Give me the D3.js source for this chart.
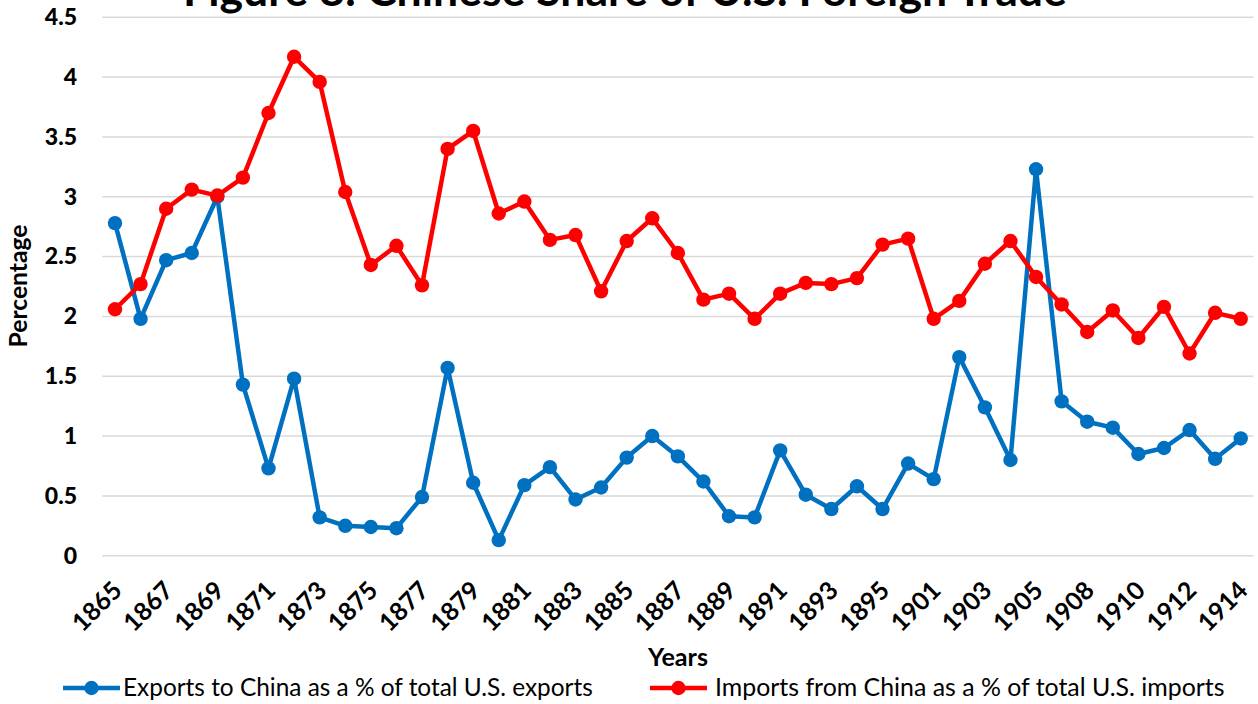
<!DOCTYPE html>
<html><head><meta charset="utf-8">
<script src="https://cdn.jsdelivr.net/npm/d3@7"></script>
<style>
body{margin:0;background:#fff}
svg{display:block}
text{font-family:Lato,'Open Sans',sans-serif;fill:#000}
</style>
</head><body>
<svg id="c" width="1258" height="704"></svg>
<script>
const years = ["1865","1866","1867","1868","1869","1870","1871","1872","1873","1874","1875","1876","1877","1878","1879","1880","1881","1882","1883","1884","1885","1886","1887","1888","1889","1890","1891","1892","1893","1894","1895","1900","1901","1902","1903","1904","1905","1906","1908","1909","1910","1911","1912","1913","1914"];
const exportsPct = [2.78,1.98,2.47,2.53,3.00,1.43,0.73,1.48,0.32,0.25,0.24,0.23,0.49,1.57,0.61,0.13,0.59,0.74,0.47,0.57,0.82,1.00,0.83,0.62,0.33,0.32,0.88,0.51,0.39,0.58,0.39,0.77,0.64,1.66,1.24,0.80,3.23,1.29,1.12,1.07,0.85,0.90,1.05,0.81,0.98];
const importsPct = [2.06,2.27,2.90,3.06,3.01,3.16,3.70,4.17,3.96,3.04,2.43,2.59,2.26,3.40,3.55,2.86,2.96,2.64,2.68,2.21,2.63,2.82,2.53,2.14,2.19,1.98,2.19,2.28,2.27,2.32,2.60,2.65,1.98,2.13,2.44,2.63,2.33,2.10,1.87,2.05,1.82,2.08,1.69,2.03,1.98];
const yTicks = [0,0.5,1,1.5,2,2.5,3,3.5,4,4.5];
const xTickLabels = years.filter((d,i)=>i%2===0);
const seriesNames = ["Exports to China as a % of total U.S. exports","Imports from China as a % of total U.S. imports"];
const colors = ["#0070C0","#FF0000"];
const title = "Figure 8: Chinese Share of U.S. Foreign Trade";

const svg = d3.select("#c");
const x = d3.scalePoint().domain(years).range([102.2,1253.5]).padding(0.5);
const y = d3.scaleLinear().domain([0,4.5]).range([555.7,17.3]);

function fit(sel, target){
  const w = sel.node().getComputedTextLength();
  const fs = parseFloat(sel.attr("font-size"));
  sel.attr("font-size", fs*target/w);
}

// gridlines
svg.append("g").selectAll("line").data(yTicks).join("line")
  .attr("x1",102.2).attr("x2",1253.5)
  .attr("y1",d=>y(d)).attr("y2",d=>y(d))
  .attr("stroke","#d9d9d9").attr("stroke-width",1.5);

// y axis
const yAxis = svg.append("g").attr("transform","translate(79,0)")
  .call(d3.axisLeft(y).tickValues(yTicks).tickSize(0).tickPadding(2).tickFormat(d=>String(d)));
yAxis.select(".domain").remove();
yAxis.selectAll("text").attr("font-size",23).attr("font-weight",900)
  .attr("font-family","Lato,'Open Sans',sans-serif").attr("fill","#000");

// x axis
const xAxis = svg.append("g").attr("transform","translate(0,575)")
  .call(d3.axisBottom(x).tickValues(xTickLabels).tickSize(0).tickPadding(0));
xAxis.select(".domain").remove();
xAxis.selectAll("text")
  .attr("font-size",25).attr("font-weight","bold")
  .attr("font-family","Lato,'Open Sans',sans-serif").attr("fill","#000")
  .attr("text-anchor","end").attr("dy",0).attr("y",0)
  .attr("transform","translate(8,17) rotate(-45)");

// lines
const line = d3.line().x((d,i)=>x(years[i])).y(d=>y(d));
[exportsPct, importsPct].forEach((vals,k)=>{
  const g = svg.append("g");
  g.append("path").datum(vals).attr("d",line).attr("fill","none")
    .attr("stroke",colors[k]).attr("stroke-width",4.5).attr("stroke-linejoin","round");
  g.selectAll("circle").data(vals).join("circle")
    .attr("cx",(d,i)=>x(years[i])).attr("cy",d=>y(d)).attr("r",7.2).attr("fill",colors[k]);
});

// title
const t = svg.append("text").attr("x",625).attr("y",6).attr("text-anchor","middle")
  .attr("font-size",36).attr("font-weight","bold").text(title);
fit(t, 884);

// y label
const yl = svg.append("text").attr("transform","translate(27,286) rotate(-90)").attr("text-anchor","middle")
  .attr("font-size",18).attr("font-weight","bold").text("Percentage");
fit(yl,123);

// x label
const xl = svg.append("text").attr("x",678).attr("y",666).attr("text-anchor","middle")
  .attr("font-size",20).attr("font-weight","bold").text("Years");
fit(xl,60);

// legend
const legX = [63,650], legTextX=[123,715], legW=[470,510];
seriesNames.forEach((n,k)=>{
  svg.append("line").attr("x1",legX[k]).attr("x2",legX[k]+57).attr("y1",688).attr("y2",688)
    .attr("stroke",colors[k]).attr("stroke-width",4.5);
  svg.append("circle").attr("cx",legX[k]+28.5).attr("cy",688).attr("r",7.2).attr("fill",colors[k]);
  const lt = svg.append("text").attr("x",legTextX[k]).attr("y",696).attr("font-size",20).text(n);
  fit(lt, legW[k]);
});
</script>
</body></html>
